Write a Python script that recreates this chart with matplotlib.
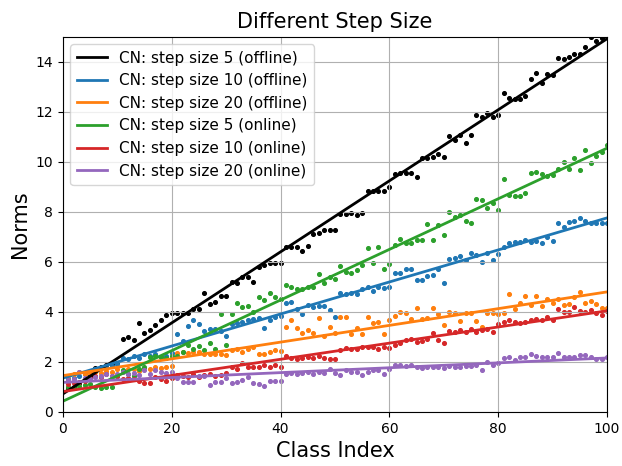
import matplotlib
matplotlib.use("Agg")
import matplotlib.pyplot as plt
import numpy as np

# class index 1..100
classes = np.arange(1, 101)

cn5_offline = [
    0.95, 1.0, 1.15, 1.3, 1.45, 1.75, 1.8, 1.87, 1.9, 1.95,
    2.93, 3.0, 2.88, 3.55, 3.15, 3.28, 3.48, 3.68, 3.88, 3.97,
    3.97, 3.97, 3.97, 4.1, 4.1, 4.77, 4.32, 4.4, 4.63, 4.63,
    5.21, 5.17, 5.39, 5.39, 5.21, 5.81, 5.88, 5.95, 5.95, 5.97,
    6.61, 6.61, 6.61, 6.45, 6.65, 7.12, 7.16, 7.28, 7.28, 7.28,
    7.92, 7.92, 7.95, 7.88, 7.95, 8.84, 8.84, 8.84, 8.84, 8.99,
    9.52, 9.55, 9.57, 9.57, 9.41, 10.15, 10.15, 10.19, 10.33, 10.19,
    11.04, 10.88, 11.08, 10.75, 11.08, 11.88, 11.8, 11.95, 11.8, 11.88,
    12.77, 12.55, 12.5, 12.5, 12.64, 13.3, 13.56, 13.17, 13.53, 13.47,
    14.15, 14.12, 14.2, 14.3, 14.33, 14.6, 15.0, 14.85, 14.95, 15.2,
]
cn10_offline = [
    1.3, 1.35, 1.45, 1.5, 1.6, 1.7, 1.75, 1.8, 1.85, 1.9,
    2.15, 2.1, 2.25, 2.15, 2.3, 2.25, 2.3, 2.2, 2.25, 2.35,
    3.12, 2.85, 3.44, 3.69, 3.53, 3.23, 3.3, 3.3, 3.25, 3.05,
    3.5, 3.55, 3.61, 3.68, 3.7, 3.75, 3.35, 3.68, 3.81, 3.85,
    4.37, 4.4, 4.1, 3.92, 4.28, 4.21, 4.24, 4.24, 4.08, 3.79,
    4.75, 4.72, 4.77, 4.72, 4.91, 4.99, 4.85, 5.01, 4.95, 4.99,
    5.55, 5.55, 5.71, 5.71, 5.28, 5.28, 5.44, 5.48, 5.71, 5.17,
    6.11, 6.15, 6.24, 6.08, 6.37, 6.28, 6.01, 6.37, 6.08, 6.31,
    6.59, 6.75, 6.81, 6.81, 6.88, 6.81, 6.85, 6.75, 7.01, 6.84,
    7.55, 7.39, 7.61, 7.65, 7.75, 7.65, 7.57, 7.55, 7.55, 7.55,
]
cn20_offline = [
    1.45, 1.5, 1.6, 1.5, 1.55, 1.6, 1.55, 1.65, 1.6, 1.7,
    1.65, 1.7, 1.7, 1.65, 1.75, 1.7, 1.8, 1.75, 1.8, 1.85,
    2.37, 2.4, 2.37, 2.4, 2.4, 2.33, 2.33, 2.3, 2.3, 2.28,
    2.49, 2.51, 2.4, 2.51, 2.61, 2.33, 2.33, 2.4, 2.49, 2.45,
    3.39, 3.68, 3.35, 3.15, 3.28, 3.17, 3.75, 3.04, 3.39, 3.17,
    3.79, 3.79, 3.12, 3.35, 3.12, 3.79, 3.57, 3.61, 3.12, 3.68,
    3.84, 4.01, 3.97, 3.71, 4.15, 3.71, 3.75, 4.15, 3.92, 3.48,
    4.01, 3.97, 3.65, 3.95, 3.97, 3.65, 3.41, 3.97, 3.97, 3.9,
    3.97, 4.72, 4.11, 4.37, 4.64, 4.28, 4.64, 4.24, 4.51, 4.37,
    4.51, 4.28, 4.32, 4.61, 4.81, 4.37, 4.45, 4.32, 4.15, 4.15,
]
cn5_online = [
    1.0, 0.95, 1.04, 1.08, 1.1, 1.0, 0.95, 1.0, 1.01, 1.45,
    1.68, 1.5, 1.44, 1.7, 1.81, 2.21, 2.25, 2.2, 2.15, 2.22,
    2.24, 2.41, 2.68, 2.5, 2.63, 2.48, 2.75, 2.51, 3.92, 2.68,
    3.92, 4.37, 4.2, 4.25, 4.0, 4.59, 4.48, 4.77, 4.61, 4.5,
    5.08, 4.99, 4.91, 4.91, 4.99, 5.01, 5.52, 5.17, 5.41, 5.31,
    5.84, 5.61, 5.57, 5.68, 5.88, 6.55, 5.97, 6.59, 5.71, 5.92,
    6.68, 6.91, 6.77, 6.77, 6.88, 6.88, 7.51, 6.88, 7.48, 7.08,
    8.01, 7.8, 7.89, 7.63, 7.56, 8.51, 8.48, 8.15, 8.37, 8.08,
    9.31, 8.68, 8.64, 8.64, 8.77, 9.55, 9.59, 9.51, 9.44, 9.48,
    9.71, 9.99, 9.71, 10.15, 9.68, 10.48, 9.95, 10.24, 10.41, 10.68,
]
cn10_online = [
    1.1, 1.15, 1.2, 1.25, 1.35, 1.45, 1.38, 1.5, 1.42, 1.45,
    1.3, 1.34, 1.3, 1.23, 1.14, 1.14, 1.39, 1.3, 1.23, 1.34,
    1.48, 1.44, 1.41, 1.52, 1.41, 1.48, 1.52, 1.44, 1.48, 1.55,
    1.81, 1.71, 1.95, 1.81, 1.79, 1.81, 1.88, 1.81, 1.88, 1.81,
    2.24, 2.15, 2.11, 2.15, 2.21, 2.15, 2.24, 2.15, 2.11, 2.11,
    2.48, 2.55, 2.51, 2.51, 2.59, 2.61, 2.59, 2.51, 2.61, 2.55,
    2.68, 2.75, 2.88, 2.91, 2.81, 2.85, 2.91, 3.17, 2.88, 2.77,
    3.25, 3.21, 3.28, 3.21, 3.31, 3.21, 3.28, 3.31, 3.21, 3.53,
    3.61, 3.68, 3.61, 3.55, 3.61, 3.68, 3.71, 3.68, 3.79, 3.68,
    4.11, 4.01, 4.01, 4.21, 4.05, 4.01, 4.08, 3.97, 3.88, 4.05,
]
cn20_online = [
    1.28, 1.3, 1.61, 1.35, 1.3, 1.4, 1.45, 1.5, 1.45, 1.5,
    1.61, 1.52, 1.57, 1.48, 1.68, 1.52, 1.68, 1.61, 1.57, 1.61,
    1.35, 1.21, 1.21, 1.21, 1.43, 1.43, 1.08, 1.21, 1.21, 1.35,
    1.17, 1.21, 1.28, 1.41, 1.17, 1.1, 1.04, 1.25, 1.25, 1.25,
    1.52, 1.57, 1.52, 1.57, 1.61, 1.52, 1.61, 1.57, 1.71, 1.57,
    1.48, 1.68, 1.61, 1.61, 1.48, 1.61, 1.68, 1.68, 1.52, 1.7,
    1.88, 1.88, 1.84, 1.88, 1.81, 1.75, 1.81, 1.81, 1.81, 1.75,
    1.84, 1.81, 1.81, 1.84, 1.84, 1.88, 1.68, 2.01, 1.88, 1.96,
    2.15, 2.19, 2.08, 2.19, 2.19, 2.32, 2.24, 2.19, 2.21, 2.19,
    2.35, 2.19, 2.19, 2.21, 2.28, 2.28, 2.19, 2.11, 2.11, 2.19,
]

series = [
    ("CN: step size 5 (offline)", cn5_offline, "k"),
    ("CN: step size 10 (offline)", cn10_offline, "C0"),
    ("CN: step size 20 (offline)", cn20_offline, "C1"),
    ("CN: step size 5 (online)", cn5_online, "C2"),
    ("CN: step size 10 (online)", cn10_online, "C3"),
    ("CN: step size 20 (online)", cn20_online, "C4"),
]

fig, ax = plt.subplots(figsize=(6.22, 4.66), dpi=100)
for label, vals, color in series:
    vals = np.array(vals)
    ax.scatter(classes, vals, s=7, color=color, zorder=1)
    k, b = np.polyfit(classes, vals, 1)
    xs = np.array([0, 100])
    ax.plot(xs, k * xs + b, color=color, lw=2, label=label)

ax.set_xlim(0, 100)
ax.set_ylim(0, 15)
ax.grid(True)
ax.set_title("Different Step Size", fontsize=15)
ax.set_xlabel("Class Index", fontsize=15)
ax.set_ylabel("Norms", fontsize=15)
ax.legend(loc="upper left", fontsize=11)
fig.subplots_adjust(left=0.101, right=0.976, top=0.921, bottom=0.116)
fig.savefig("out.png")
